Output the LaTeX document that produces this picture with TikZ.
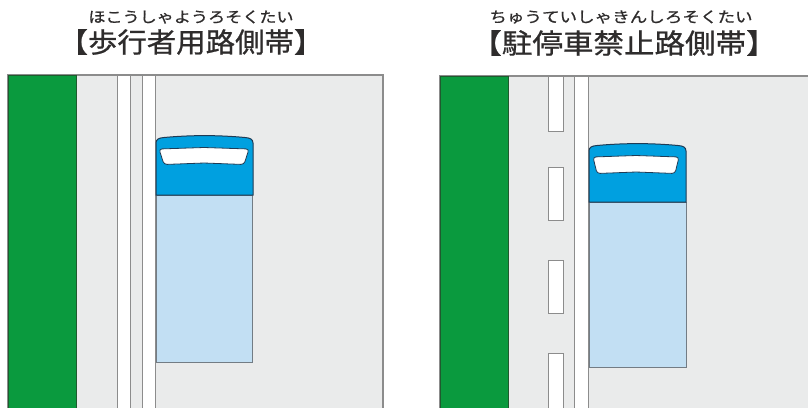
\documentclass[tikz,border=0pt]{standalone}
\usepackage{graphicx}
\usepackage{fontspec}
\newfontfamily\jp{Noto Sans CJK JP}[FakeBold=0.8]
\definecolor{verge}{HTML}{0A9A3E}
\definecolor{vergeedge}{HTML}{1F5A2E}
\definecolor{roadgray}{HTML}{EAEBEB}
\definecolor{edgegray}{HTML}{8C8C8C}
\definecolor{cabblue}{HTML}{00A0E0}
\definecolor{cabedge}{HTML}{1F3B55}
\definecolor{cargoblue}{HTML}{C2DFF3}
\definecolor{cargoedge}{HTML}{737C84}
\definecolor{ink}{HTML}{2E2C2C}
\pgfdeclarelayer{roadlayer}
\pgfdeclarelayer{trucklayer}
\pgfsetlayers{roadlayer,trucklayer,main}
\tikzstyle{road}=[fill=roadgray,draw=edgegray,line width=1.5pt]
\tikzstyle{greenstrip}=[fill=verge,draw=vergeedge,line width=0.8pt]
\tikzstyle{whiteline}=[fill=white,draw=edgegray,line width=1pt]
\tikzstyle{cab}=[fill=cabblue,draw=cabedge,line width=1pt]
\tikzstyle{cargo}=[fill=cargoblue,draw=cargoedge,line width=0.8pt]
\tikzstyle{windshield}=[fill=white,draw=cabedge,line width=0.8pt,rounded corners=3pt]
\tikzstyle{ruby}=[font=\jp\fontsize{15}{16}\selectfont,text=ink,inner sep=0pt]
\tikzstyle{title}=[font=\jp\fontsize{27.5}{30}\selectfont,text=ink,inner sep=0pt]

\begin{document}
\begin{tikzpicture}[x=1pt,y=-1pt]
	\useasboundingbox (0,0) rectangle (808,407);
	\node [style=ruby] (rubyL) at (191,17) {\scalebox{1.14}[1]{ほこうしゃようろそくたい}};
	\node [style=title] (titleL) at (191,42) {\scalebox{1.07}[1]{【歩行者用路側帯】}};
	\node [style=ruby] (rubyR) at (621,17) {\scalebox{1.17}[1]{ちゅうていしゃきんしろそくたい}};
	\node [style=title] (titleR) at (624,43) {\scalebox{1.11}[1]{【駐停車禁止路側帯】}};
	\begin{pgfonlayer}{roadlayer}
		% pedestrian strip: two solid white lines
		\draw [style=road] (8,420) -- (8,75) -- (383,75) -- (383,420);
		\draw [style=greenstrip] (8,75) rectangle (76,420);
		\draw [style=whiteline] (117,75) rectangle (130,420);
		\draw [style=whiteline] (142,75) rectangle (155,420);
		% no-stopping strip: broken line plus solid line
		\draw [style=road] (440,420) -- (440,76) -- (820,76) -- (820,420);
		\draw [style=greenstrip] (440,76) rectangle (508,420);
		\draw [style=whiteline] (548,76) rectangle (563,131);
		\draw [style=whiteline] (548,167) rectangle (563,220);
		\draw [style=whiteline] (548,260) rectangle (563,313);
		\draw [style=whiteline] (548,353) rectangle (563,420);
		\draw [style=whiteline] (574,76) rectangle (588,420);
	\end{pgfonlayer}
	\begin{pgfonlayer}{trucklayer}
		\begin{scope}[shift={(156,137)}]
			\draw [style=cargo] (0,58) rectangle (96,225);
			\draw [style=cab] (0,58) -- (0,6) .. controls (0,2) and (3,1) .. (8,0.5) .. controls (35,-2) and (62,-2) .. (89,0.5) .. controls (94,1) and (97,2) .. (97,6) -- (97,58) -- cycle;
			\draw [style=windshield] (3,12) -- (48,10.5) -- (93,12) -- (88,27.5) -- (48,26) -- (8,27.5) -- cycle;
		\end{scope}
		\begin{scope}[shift={(589,145)}]
			\draw [style=cargo] (0,57) rectangle (97,222);
			\draw [style=cab] (0,57) -- (0,6) .. controls (0,2) and (3,1) .. (8,0.5) .. controls (35,-2) and (62,-2) .. (89,0.5) .. controls (94,1) and (97,2) .. (97,6) -- (97,57) -- cycle;
			\draw [style=windshield] (4,12) -- (47,10.5) -- (90,12) -- (86,28.5) -- (47,27) -- (8,28.5) -- cycle;
		\end{scope}
	\end{pgfonlayer}
\end{tikzpicture}
\end{document}
